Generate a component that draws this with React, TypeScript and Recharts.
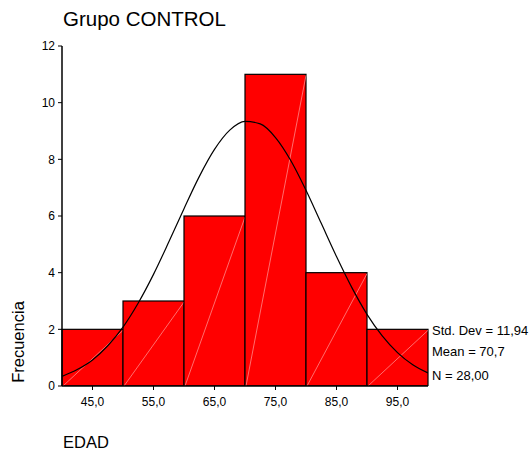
import React from "react";
import { ComposedChart, Bar, Line, XAxis, YAxis } from "recharts";

// Age histogram: bin centres and frequencies
const binCenters = [45, 55, 65, 75, 85, 95];
const binCounts = [2, 3, 6, 11, 4, 2];

// Fitted normal curve, sampled every 2.5 years
const curveAges = [
  40, 42.5, 45, 47.5, 50, 52.5, 55, 57.5, 60, 62.5, 65, 67.5, 70, 72.5, 75,
  77.5, 80, 82.5, 85, 87.5, 90, 92.5, 95, 97.5, 100,
];
const curveFreq = [
  0.34, 0.58, 0.92, 1.42, 2.08, 2.93, 3.94, 5.08, 6.26, 7.39, 8.35, 9.03,
  9.34, 9.25, 8.77, 7.96, 6.91, 5.74, 4.57, 3.48, 2.53, 1.77, 1.18, 0.75,
  0.46,
];

const yTicks = [0, 2, 4, 6, 8, 10, 12];
const statLines = ["Std. Dev = 11,94", "Mean = 70,7", "N = 28,00"];

const title = "Grupo CONTROL";
const xTitle = "EDAD";
const yTitle = "Frecuencia";

const barData = binCenters.map((c, i) => ({ bin: String(c), count: binCounts[i] }));
const curveData = curveAges.map((a, i) => ({ age: a, freq: curveFreq[i] }));

const FONT = "'Liberation Sans', Arial, Helvetica, sans-serif";
const W = 532;
const H = 452;

const fmt = (v: number) => v.toFixed(1).replace(".", ",");

// Red bin with a faint diagonal from bottom-left to top-right
const BinBar = (props: any) => {
  const { x, y, width, height } = props;
  if (width == null || height == null) return null;
  return (
    <g>
      <rect x={x} y={y} width={width} height={height} fill="#ff0000" stroke="#000" strokeWidth={1.2} />
      <line
        x1={x + 1}
        y1={y + height}
        x2={x + width}
        y2={y + 1}
        stroke="#ff9c9c"
        strokeWidth={0.7}
      />
    </g>
  );
};

export default function App() {
  return (
    <div style={{ position: "absolute", left: 0, top: 0, width: W, height: H, background: "#fff" }}>
      <ComposedChart
        width={W}
        height={H}
        data={barData}
        barCategoryGap={0}
        barGap={0}
        margin={{ top: 46, right: 104, bottom: 36, left: 0 }}
      >
        <XAxis xAxisId="bins" dataKey="bin" type="category" hide />
        <XAxis
          xAxisId="age"
          type="number"
          dataKey="age"
          domain={[40, 100]}
          ticks={binCenters}
          tickFormatter={fmt}
          height={30}
          allowDataOverflow
          axisLine={{ stroke: "#000", strokeWidth: 1.5 }}
          tickLine={{ stroke: "#000" }}
          tickSize={4}
          tickMargin={7}
          tick={{ fill: "#000", fontSize: 12, fontFamily: FONT }}
        />
        <XAxis
          xAxisId="frameTop"
          orientation="top"
          type="number"
          domain={[0, 1]}
          height={0}
          tick={false}
          tickLine={false}
          axisLine={{ stroke: "#000", strokeWidth: 1.2 }}
        />
        <YAxis
          yAxisId="freq"
          type="number"
          domain={[0, 12]}
          ticks={yTicks}
          width={62}
          allowDataOverflow
          axisLine={{ stroke: "#000", strokeWidth: 1.5 }}
          tickLine={{ stroke: "#000" }}
          tickSize={4}
          tickMargin={3}
          tick={{ fill: "#000", fontSize: 12, fontFamily: FONT }}
        />
        <YAxis
          yAxisId="frameRight"
          orientation="right"
          type="number"
          domain={[0, 1]}
          width={0}
          tick={false}
          tickLine={false}
          axisLine={{ stroke: "#333", strokeWidth: 1.5 }}
        />
        <Bar
          xAxisId="bins"
          yAxisId="freq"
          dataKey="count"
          shape={BinBar}
          isAnimationActive={false}
        />
        <Line
          xAxisId="age"
          yAxisId="freq"
          data={curveData}
          dataKey="freq"
          type="monotone"
          stroke="#000"
          strokeWidth={1.2}
          dot={false}
          activeDot={false}
          isAnimationActive={false}
        />
      </ComposedChart>
      <svg
        width={W}
        height={H}
        style={{ position: "absolute", left: 0, top: 0, pointerEvents: "none" }}
        fontFamily={FONT}
      >
        <text x={63} y={26} fontSize={20.5} fill="#000">
          {title}
        </text>
        <text x={63} y={448} fontSize={16.5} fill="#000">
          {xTitle}
        </text>
        <text
          x={24}
          y={342}
          fontSize={16.5}
          fill="#000"
          textAnchor="middle"
          transform="rotate(-90 24 342)"
        >
          {yTitle}
        </text>
        {statLines.map((s, i) => (
          <text key={s} x={432} y={[334.5, 356, 380][i]} fontSize={13} fill="#000">
            {s}
          </text>
        ))}
      </svg>
    </div>
  );
}
